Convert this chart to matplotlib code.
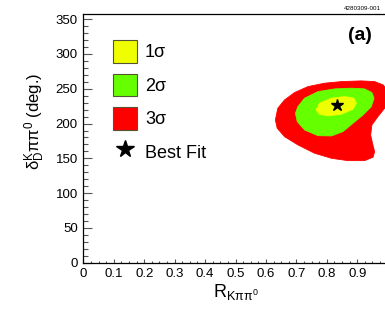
import numpy as np
import matplotlib
matplotlib.use('Agg')
import matplotlib.pyplot as plt
from matplotlib.patches import Polygon, Patch
from matplotlib.lines import Line2D
from matplotlib.ticker import MultipleLocator

plt.rcParams['font.family'] = ['Liberation Sans', 'DejaVu Sans']
plt.rcParams['mathtext.fontset'] = 'custom'
plt.rcParams['mathtext.rm'] = 'Liberation Sans'
plt.rcParams['mathtext.it'] = 'Liberation Sans'

# contour boundaries (R, delta)
r3_x = [0.631, 0.639, 0.661, 0.694, 0.738, 0.793, 0.848, 0.913, 0.957, 0.985, 1.005, 1.012,
        0.990, 0.968, 0.948, 0.944, 0.950, 0.957, 0.952, 0.924, 0.869, 0.815, 0.760,
        0.705, 0.661, 0.637]
r3_y = [205.2, 222.0, 233.9, 244.5, 253.1, 258.0, 260.3, 261.3, 260.3, 255.5, 245.0, 230.0,
        222.0, 210.0, 198.0, 183.6, 171.7, 159.6, 151.6, 146.7, 146.7, 150.1, 157.3,
        169.3, 181.2, 193.3]

r2_x = [0.697, 0.705, 0.727, 0.771, 0.826, 0.881, 0.924, 0.948, 0.955, 0.946, 0.919, 0.886,
        0.853, 0.815, 0.771, 0.727, 0.703]
r2_y = [214.8, 224.3, 236.4, 245.9, 249.8, 250.8, 249.8, 244.5, 236.4, 224.3, 212.4, 200.5,
        188.4, 182.2, 182.6, 190.8, 202.8]

r1_x = [0.765, 0.776, 0.815, 0.859, 0.889, 0.897, 0.886, 0.848, 0.804, 0.776]
r1_y = [219.6, 229.2, 236.4, 238.7, 236.4, 229.2, 220.6, 213.4, 211.0, 213.4]

best_r = 0.834
best_d = 227.0

c1 = '#f0ff00'
c2 = '#66ff00'
c3 = '#ff0000'

fig = plt.figure(figsize=(3.85, 3.23), dpi=100)
ax = fig.add_axes([0.2164, 0.1867, 0.7906, 0.769])

for xs, ys, c in [(r3_x, r3_y, c3), (r2_x, r2_y, c2), (r1_x, r1_y, c1)]:
    ax.add_patch(Polygon(np.column_stack([xs, ys]), closed=True, facecolor=c,
                         edgecolor=c, linewidth=0.6, joinstyle='round'))
ax.plot([best_r], [best_d], marker='*', color='k', markersize=9, linestyle='none')

ax.set_xlim(0, 1.0)
ax.set_ylim(0, 357)
ax.xaxis.set_minor_locator(MultipleLocator(0.025))
ax.yaxis.set_major_locator(MultipleLocator(50))
ax.yaxis.set_minor_locator(MultipleLocator(10))
ax.set_xticks(np.arange(0, 1.01, 0.1))
ax.set_xticklabels(['0', '0.1', '0.2', '0.3', '0.4', '0.5', '0.6', '0.7', '0.8', '0.9', '1'])
ax.tick_params(axis='both', which='both', direction='in', labelsize=9.5, color='#555555', width=0.8)
ax.tick_params(axis='x', which='major', length=3.2, pad=4)
ax.tick_params(axis='x', which='minor', length=1.8)
ax.tick_params(axis='y', which='major', length=6.5, pad=4)
ax.tick_params(axis='y', which='minor', length=3.5)
for s in ax.spines.values():
    s.set_linewidth(0.9)

ax.set_xlabel(r'R$_{\mathregular{K\pi\pi^0}}$', fontsize=13, labelpad=1)
ax.set_ylabel(r'$\mathregular{\delta^K_D\pi\pi^0}$ (deg.)', fontsize=12)
ax.yaxis.set_label_coords(-0.12, 0.57)

handles = [Patch(facecolor=c1, edgecolor='#555533', linewidth=0.8),
           Patch(facecolor=c2, edgecolor='#555533', linewidth=0.8),
           Patch(facecolor=c3, edgecolor='#555533', linewidth=0.8),
           Line2D([], [], marker='*', color='k', linestyle='none', markersize=13)]
labels = ['1σ', '2σ', '3σ', 'Best Fit']
ax.legend(handles, labels, loc='upper left', bbox_to_anchor=(0.075, 0.925), frameon=False,
          fontsize=13, handlelength=1.3, handleheight=1.54, labelspacing=0.61,
          handletextpad=0.45, borderaxespad=0)

fig.text(0.935, 0.889, '(a)', fontsize=14, fontweight='bold', ha='center', va='center')
fig.text(0.892, 0.975, '4280309-001', fontsize=4.5, ha='left', va='center')

fig.savefig('out.png', dpi=100)
